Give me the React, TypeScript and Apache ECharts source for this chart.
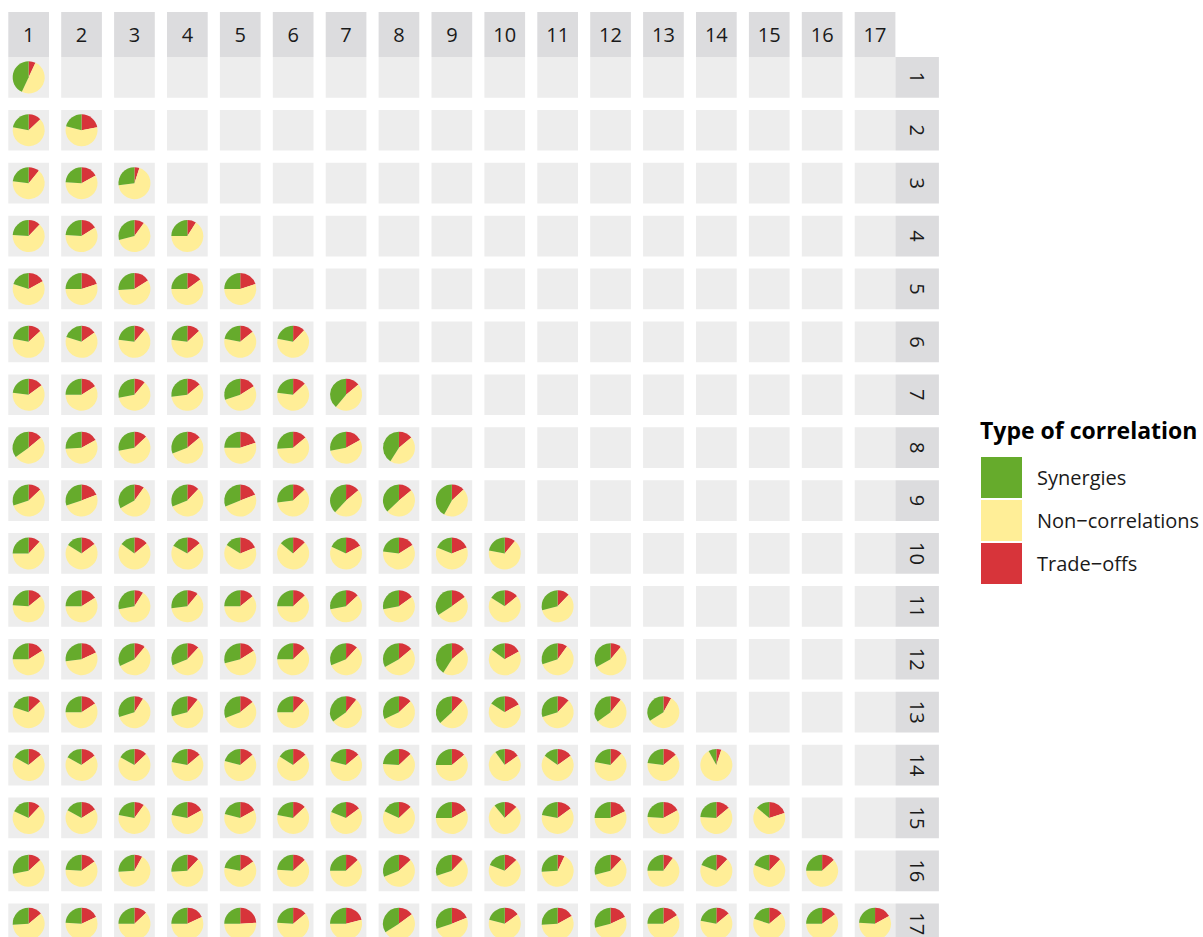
import React, { useEffect, useRef } from "react";
import * as echarts from "echarts";

// Goal numbers (facet labels for columns and rows)
const goals = ["1", "2", "3", "4", "5", "6", "7", "8", "9", "10", "11", "12", "13", "14", "15", "16", "17"];

// Shares (%) per pair of goals, lower triangle: row r has r+1 entries (columns 1..r+1)
const synergies: number[][] = [
  [43],
  [22, 21],
  [23, 24, 27],
  [24, 24, 29, 25],
  [20, 25, 26, 25, 25],
  [22, 20, 23, 23, 22, 22],
  [23, 25, 28, 27, 30, 23, 39],
  [35, 26, 28, 31, 25, 26, 28, 41],
  [30, 30, 33, 31, 31, 27, 38, 37, 42],
  [25, 16, 15, 17, 16, 14, 18, 23, 19, 22],
  [24, 25, 28, 27, 25, 25, 28, 28, 34, 16, 29],
  [25, 27, 32, 31, 29, 25, 31, 33, 41, 15, 30, 33],
  [20, 25, 30, 29, 31, 25, 35, 32, 37, 16, 30, 35, 34],
  [17, 17, 17, 22, 21, 16, 21, 24, 25, 10, 15, 22, 23, 8],
  [18, 17, 22, 22, 21, 22, 19, 18, 25, 11, 22, 25, 24, 24, 14],
  [28, 24, 26, 26, 22, 24, 25, 31, 30, 19, 26, 29, 25, 19, 19, 25],
  [26, 24, 25, 25, 25, 24, 25, 34, 30, 21, 26, 29, 25, 22, 20, 25, 24],
];

const nonCorrelations: number[][] = [
  [50],
  [65, 57],
  [66, 59, 68],
  [64, 60, 61, 66],
  [63, 55, 58, 60, 55],
  [65, 65, 66, 64, 64, 66],
  [62, 59, 61, 59, 54, 64, 47],
  [51, 57, 59, 55, 55, 60, 55, 45],
  [57, 51, 57, 57, 50, 60, 48, 49, 45],
  [63, 69, 71, 69, 65, 73, 65, 61, 62, 67],
  [62, 59, 63, 62, 61, 62, 59, 57, 51, 70, 59],
  [59, 55, 57, 57, 55, 62, 57, 53, 45, 68, 60, 56],
  [67, 59, 61, 60, 55, 63, 54, 55, 51, 67, 58, 54, 58],
  [69, 68, 70, 64, 65, 70, 65, 63, 61, 75, 70, 66, 63, 87],
  [70, 67, 68, 61, 62, 65, 66, 69, 58, 76, 63, 57, 59, 62, 66],
  [59, 61, 66, 62, 63, 63, 62, 56, 58, 68, 67, 59, 65, 69, 69, 62],
  [60, 58, 62, 57, 51, 62, 54, 51, 51, 64, 57, 53, 59, 64, 66, 60, 59],
];

const tradeOffs: number[][] = [
  [7],
  [13, 22],
  [11, 17, 5],
  [12, 16, 10, 9],
  [17, 20, 16, 15, 20],
  [13, 15, 11, 13, 14, 12],
  [15, 16, 11, 14, 16, 13, 14],
  [14, 17, 13, 14, 20, 14, 17, 14],
  [13, 19, 10, 12, 19, 13, 14, 14, 13],
  [12, 15, 14, 14, 19, 13, 17, 16, 19, 11],
  [14, 16, 9, 11, 14, 13, 13, 15, 15, 14, 12],
  [16, 18, 11, 12, 16, 13, 12, 14, 14, 17, 10, 11],
  [13, 16, 9, 11, 14, 12, 11, 13, 12, 17, 12, 11, 8],
  [14, 15, 13, 14, 14, 14, 14, 13, 14, 15, 15, 12, 14, 5],
  [12, 16, 10, 17, 17, 13, 15, 13, 17, 13, 15, 18, 17, 14, 20],
  [13, 15, 8, 12, 15, 13, 13, 13, 12, 13, 7, 12, 10, 12, 12, 13],
  [14, 18, 13, 18, 24, 14, 21, 15, 19, 15, 17, 18, 16, 14, 14, 15, 17],
];

const typeNames = ["Synergies", "Non\u2212correlations", "Trade\u2212offs"];
const typeColors = ["#66ab2c", "#ffee97", "#d7343a"];
const legendTitle = "Type of correlation";

// Layout (pixels)
const X0 = 8.3;
const Y0 = 57;
const STEP = 52.9;
const CELL = 40.7;
const STRIP_TOP = 12;
const STRIP_RIGHT_W = 43.5;
const PIE_R = 16;
const PANEL_FILL = "#ededed";
const STRIP_FILL = "#dcdcde";
const TEXT_COLOR = "#1a1a1a";
const FONT = '"Open Sans", "Noto Sans", sans-serif';

export default function App() {
  const ref = useRef<HTMLDivElement>(null);

  useEffect(() => {
    const chart = echarts.init(ref.current!, null, { renderer: "svg" });
    const graphics: any[] = [];
    const n = goals.length;

    // Panels
    for (let r = 0; r < n; r++) {
      for (let c = 0; c < n; c++) {
        graphics.push({
          type: "rect",
          silent: true,
          z: 0,
          shape: { x: X0 + c * STEP, y: Y0 + r * STEP, width: CELL, height: CELL },
          style: { fill: PANEL_FILL },
        });
      }
    }
    // Top strips
    for (let c = 0; c < n; c++) {
      graphics.push({
        type: "rect",
        silent: true,
        z: 0,
        shape: { x: X0 + c * STEP, y: STRIP_TOP, width: CELL, height: Y0 - STRIP_TOP },
        style: { fill: STRIP_FILL },
      });
      graphics.push({
        type: "text",
        silent: true,
        z: 1,
        x: X0 + c * STEP + CELL / 2,
        y: (STRIP_TOP + Y0) / 2,
        style: {
          text: goals[c],
          fill: TEXT_COLOR,
          font: `20px ${FONT}`,
          align: "center",
          verticalAlign: "middle",
          textAlign: "center",
          textVerticalAlign: "middle",
        },
      });
    }
    // Right strips
    const rx = X0 + (n - 1) * STEP + CELL;
    for (let r = 0; r < n; r++) {
      graphics.push({
        type: "rect",
        silent: true,
        z: 0,
        shape: { x: rx, y: Y0 + r * STEP, width: STRIP_RIGHT_W, height: CELL },
        style: { fill: STRIP_FILL },
      });
      graphics.push({
        type: "text",
        silent: true,
        z: 1,
        x: rx + STRIP_RIGHT_W / 2,
        y: Y0 + r * STEP + CELL / 2,
        rotation: -Math.PI / 2,
        style: {
          text: goals[r],
          fill: TEXT_COLOR,
          font: `20px ${FONT}`,
          align: "center",
          verticalAlign: "middle",
          textAlign: "center",
          textVerticalAlign: "middle",
        },
      });
    }
    // Legend title
    graphics.push({
      type: "text",
      silent: true,
      x: 980,
      y: 430,
      style: {
        text: legendTitle,
        fill: "#000000",
        font: `bold 23px ${FONT}`,
        align: "left",
        verticalAlign: "middle",
        textAlign: "left",
        textVerticalAlign: "middle",
      },
    });

    const series: any[] = [];
    for (let r = 0; r < n; r++) {
      for (let c = 0; c <= r; c++) {
        series.push({
          type: "pie",
          silent: true,
          center: [X0 + c * STEP + CELL / 2, Y0 + r * STEP + CELL / 2],
          radius: PIE_R,
          startAngle: 90,
          clockwise: true,
          label: { show: false },
          labelLine: { show: false },
          emphasis: { disabled: true },
          itemStyle: { borderWidth: 0 },
          data: [
            { name: typeNames[2], value: tradeOffs[r][c], itemStyle: { color: typeColors[2] } },
            { name: typeNames[1], value: nonCorrelations[r][c], itemStyle: { color: typeColors[1] } },
            { name: typeNames[0], value: synergies[r][c], itemStyle: { color: typeColors[0] } },
          ],
        });
      }
    }

    chart.setOption({
      animation: false,
      color: typeColors,
      legend: {
        orient: "vertical",
        left: 981,
        top: 457,
        padding: 0,
        itemWidth: 41,
        itemHeight: 41,
        itemGap: 2,
        icon: "rect",
        selectedMode: false,
        data: typeNames,
        textStyle: { fontSize: 20, color: TEXT_COLOR, fontFamily: FONT, padding: [0, 0, 0, 10] },
      },
      graphic: graphics,
      series,
    });

    return () => chart.dispose();
  }, []);

  return (
    <div
      ref={ref}
      style={{ position: "absolute", left: 0, top: 0, width: 1203, height: 937, background: "#ffffff" }}
    />
  );
}
